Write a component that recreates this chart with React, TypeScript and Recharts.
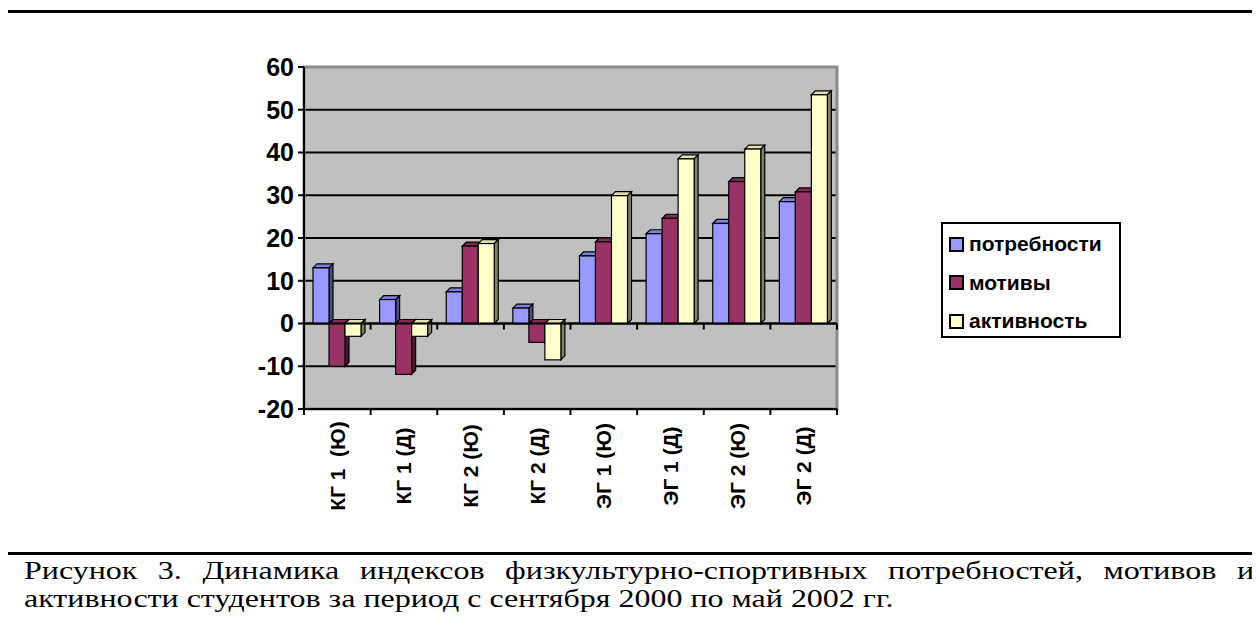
import React from "react";
import {
  Bar,
  BarChart,
  CartesianGrid,
  Legend,
  ReferenceArea,
  ReferenceLine,
  XAxis,
  YAxis,
} from "recharts";

const categories = [
  "КГ 1  (Ю)",
  "КГ 1 (Д)",
  "КГ 2 (Ю)",
  "КГ 2 (Д)",
  "ЭГ 1 (Ю)",
  "ЭГ 1 (Д)",
  "ЭГ 2 (Ю)",
  "ЭГ 2 (Д)",
];
const needs = [13, 5.6, 7.4, 3.6, 15.8, 21, 23.4, 28.5];
const motives = [-10, -11.9, 18.1, -4.4, 19.1, 24.6, 33.2, 30.8];
const activity = [-3, -3, 18.7, -8.5, 29.9, 38.5, 40.8, 53.5];

const yTicks = [-20, -10, 0, 10, 20, 30, 40, 50, 60];
const gridValues = [-10, 0, 10, 20, 30, 40, 50];

const seriesNames = ["потребности", "мотивы", "активность"];

const data = categories.map((name, i) => ({
  name,
  needs: needs[i],
  motives: motives[i],
  activity: activity[i],
}));

// plot geometry
const PLOT_LEFT = 304;
const PLOT_RIGHT = 837;
const PLOT_TOP = 67;
const PLOT_BOTTOM = 409;
const BAND = (PLOT_RIGHT - PLOT_LEFT) / categories.length;
const ZERO_UP = ((PLOT_BOTTOM - PLOT_TOP) * 20) / 80;
const DEPTH = 4;

const sans = "'Liberation Sans', Arial, sans-serif";
const serif = "'Liberation Serif', 'Times New Roman', serif";

const make3D = (front: string, side: string, top: string) => (props: any) => {
  const { x, y, width, height } = props;
  if (x == null || y == null) return null;
  const t = Math.min(y, y + height);
  const h = Math.abs(height);
  const r = x + width;
  return (
    <g>
      <polygon
        points={`${x},${t} ${x + DEPTH},${t - DEPTH} ${r + DEPTH},${t - DEPTH} ${r},${t}`}
        fill={top}
        stroke="#000"
        strokeWidth={1.2}
      />
      <polygon
        points={`${r},${t} ${r + DEPTH},${t - DEPTH} ${r + DEPTH},${t + h - DEPTH} ${r},${t + h}`}
        fill={side}
        stroke="#000"
        strokeWidth={1.2}
      />
      <rect x={x} y={t} width={width} height={h} fill={front} stroke="#000" strokeWidth={1.2} />
    </g>
  );
};

const XTick = (props: any) => {
  const { x, y, payload, index } = props;
  const left = x - BAND / 2;
  const last = index === categories.length - 1;
  return (
    <g>
      <line x1={left} y1={y} x2={left} y2={y + 6} stroke="#000" strokeWidth={2} />
      <line x1={left} y1={y - ZERO_UP} x2={left} y2={y - ZERO_UP + 6} stroke="#000" strokeWidth={2} />
      {last && (
        <>
          <line x1={x + BAND / 2} y1={y} x2={x + BAND / 2} y2={y + 6} stroke="#000" strokeWidth={2} />
          <line x1={x + BAND / 2} y1={y - ZERO_UP} x2={x + BAND / 2} y2={y - ZERO_UP + 6} stroke="#000" strokeWidth={2} />
        </>
      )}
      <text
        x={0}
        y={0}
        transform={`translate(${x},${y + 57}) rotate(-90)`}
        textAnchor="middle"
        dominantBaseline="central"
        fontFamily={sans}
        fontWeight="bold"
        fontSize={21}
        fill="#000"
        style={{ whiteSpace: "pre" }}
      >
        {payload.value}
      </text>
    </g>
  );
};

const legendColors = ["#9999FF", "#993366", "#FFFFCC"];

const LegendBox = () => (
  <div
    style={{
      border: "2px solid #000",
      width: 180,
      height: 116,
      boxSizing: "border-box",
      background: "#fff",
      padding: "1px 0 0 6px",
      fontFamily: sans,
      fontWeight: "bold",
      fontSize: 21,
      color: "#000",
      whiteSpace: "nowrap",
    }}
  >
    {seriesNames.map((n, i) => (
      <div key={n} style={{ display: "flex", alignItems: "center", height: 38.5 }}>
        <span
          style={{
            display: "inline-block",
            width: 11,
            height: 11,
            border: "2px solid #000",
            background: legendColors[i],
            marginRight: 5,
            flex: "none",
          }}
        />
        {n}
      </div>
    ))}
  </div>
);

const line = (style: React.CSSProperties) => (
  <div style={{ position: "absolute", background: "#000", ...style }} />
);

const CAP_SCALE = 1.23;

const App = () => {
  return (
    <div
      style={{
        position: "relative",
        width: 1260,
        height: 623,
        margin: "-8px 0 0 -8px",
        overflow: "hidden",
        background: "#fff",
      }}
    >
      {line({ left: 5, top: 10, width: 2.5, height: 613 })}
      {line({ left: 1255, top: 10, width: 2.5, height: 613 })}
      {line({ left: 5, top: 10, width: 1252, height: 2.5 })}
      {line({ left: 5, top: 552, width: 1252, height: 2.5 })}

      <div style={{ position: "absolute", left: 0, top: 0 }}>
        <BarChart
          width={1260}
          height={552}
          data={data}
          barSize={16}
          barGap={0}
          margin={{
            top: PLOT_TOP,
            right: 1260 - PLOT_RIGHT,
            left: PLOT_LEFT - 70,
            bottom: 552 - PLOT_BOTTOM - 120,
          }}
        >
          <CartesianGrid
            fill="#C0C0C0"
            vertical={false}
            horizontalValues={gridValues}
            stroke="#000"
            strokeWidth={2}
          />
          <ReferenceArea y1={-20} y2={60} fill="none" stroke="#8A8A8A" strokeWidth={3} />
          <XAxis
            dataKey="name"
            interval={0}
            height={120}
            tickLine={false}
            tickSize={0}
            tickMargin={0}
            axisLine={{ stroke: "#000", strokeWidth: 2 }}
            tick={<XTick />}
          />
          <YAxis
            width={70}
            domain={[-20, 60]}
            ticks={yTicks}
            interval={0}
            tickSize={6}
            tickMargin={4}
            axisLine={{ stroke: "#000", strokeWidth: 2 }}
            tickLine={{ stroke: "#000", strokeWidth: 2 }}
            tick={{ fill: "#000", fontSize: 25, fontWeight: "bold", fontFamily: sans }}
          />
          <ReferenceLine y={0} stroke="#000" strokeWidth={2} />
          <Legend
            layout="horizontal"
            verticalAlign="middle"
            align="center"
            content={<LegendBox />}
            wrapperStyle={{ left: 941, top: 222, width: 180, height: 116 }}
          />
          <Bar
            dataKey="needs"
            name={seriesNames[0]}
            fill="#9999FF"
            shape={make3D("#9999FF", "#4D4D80", "#8080E0")}
            isAnimationActive={false}
          />
          <Bar
            dataKey="motives"
            name={seriesNames[1]}
            fill="#993366"
            shape={make3D("#993366", "#4D1A33", "#802B55")}
            isAnimationActive={false}
          />
          <Bar
            dataKey="activity"
            name={seriesNames[2]}
            fill="#FFFFCC"
            shape={make3D("#FFFFCC", "#808066", "#E0E0B0")}
            isAnimationActive={false}
          />
        </BarChart>
      </div>

      <div
        style={{
          position: "absolute",
          left: 24,
          top: 557,
          width: 1230 / CAP_SCALE,
          transform: `scaleX(${CAP_SCALE})`,
          transformOrigin: "left top",
          fontFamily: serif,
          fontSize: 26,
          lineHeight: "28px",
          color: "#000",
          whiteSpace: "nowrap",
        }}
      >
        <div style={{ textAlign: "justify", textAlignLast: "justify", whiteSpace: "normal" }}>
          Рисунок 3. Динамика индексов физкультурно-спортивных потребностей, мотивов и
        </div>
        <div>активности студентов за период с сентября 2000 по май 2002 гг.</div>
      </div>
    </div>
  );
};

export default App;
